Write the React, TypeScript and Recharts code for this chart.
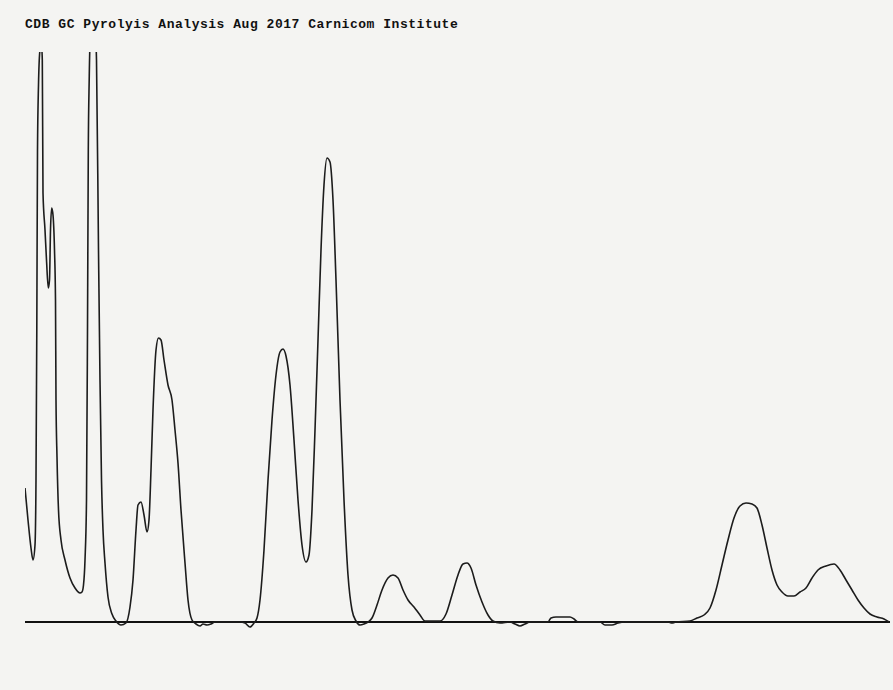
import { LineChart, Line, XAxis, YAxis, ReferenceLine } from 'recharts';

// retention time (min) and detector signal (arbitrary units)
const TIME = [
  0, 0.3, 0.6, 0.8, 1.0, 1.1, 1.18, 1.25, 1.35, 1.5, 1.65, 1.73, 1.8, 2.0, 2.15, 2.33, 2.45, 2.55,
  2.67, 2.8, 2.95, 3.05, 3.1, 3.2, 3.35, 3.6, 4.0, 4.5, 5.0, 5.5, 5.7, 5.85, 6.0, 6.15, 6.25, 6.33,
  6.42, 6.5, 6.8, 7.1, 7.15, 7.35, 7.5, 7.65, 7.8, 8.0, 8.3, 8.7, 9.1, 9.6, 10.1, 10.5,
  10.8, 11.1, 11.3, 11.6, 11.9, 12.2,
  12.4, 12.6, 12.8, 13.1, 13.35, 13.6, 13.9, 14.3, 14.7, 15.0, 15.3, 15.6, 16.0, 16.3, 16.7, 17.1,
  17.5, 17.8, 18.2, 18.6, 19.0, 21.5, 22.0, 22.5, 22.9, 23.2, 23.5, 23.9, 24.3, 24.7, 25.1, 25.5,
  25.8, 26.1, 26.5, 26.9, 27.3, 27.7, 28.1, 28.4, 28.7, 29.0, 29.3, 29.6, 29.9, 30.2, 30.5, 30.8,
  31.1, 31.5, 31.9, 32.3, 32.7, 33.1, 33.5, 33.9, 34.3, 34.7, 35.2, 35.7, 36.3, 36.8, 37.3, 37.8,
  38.3, 38.9, 39.5, 40.0, 41.5, 42.1, 42.7, 43.3, 43.8, 44.2, 44.6, 45.1, 45.7, 46.3, 46.8, 47.5,
  48.5, 49.0, 49.5, 50.0, 50.5, 52.3, 52.6, 53.1, 54.5, 54.9, 55.3, 57.5, 58.0, 58.7, 59.3, 60.0,
  64.3, 64.7, 65.1, 66.5, 67.2, 67.9, 68.5, 69.1, 69.7, 70.3, 70.9, 71.5, 72.1, 72.7, 73.2, 73.7,
  74.2, 74.7, 75.2, 75.7, 76.3, 76.9, 77.5, 78.1, 78.7, 79.3, 80.1, 80.9, 81.5, 82.1, 82.7, 83.3,
  83.9, 84.5, 85.2, 85.9, 86.4,
];

const SIGNAL = [
  13.4, 10.2, 7.4, 6.2, 7.7, 14.2, 29.2, 47.2, 53.7, 57.2, 57.7, 56.2, 42.9, 39.2, 36.2, 33.4, 34.2, 39.2,
  41.4, 40.7, 37.2, 32.2, 22.2, 16.5, 11.2, 8.2, 6.2, 4.4, 3.4, 2.9, 3.0, 3.7, 6.2, 12.2, 29.2, 47.2,
  54.2, 57.7, 58.7, 57.7, 56.2, 37.2, 24.2, 14.2, 9.2, 5.9, 2.5, 0.8, 0.1, -0.3, -0.1, 1.5,
  4.2, 9.2, 11.7, 12.0, 10.7, 9.0,
  10.2, 15.2, 21.2, 27.2, 28.4, 28.2, 26.2, 23.7, 22.2, 19.2, 15.9, 11.2, 5.9, 2.2, 0.2, -0.2,
  -0.4, -0.2, -0.3, -0.2, 0, 0, -0.1, -0.5, -0.1, 0.4, 2.2, 7.2, 14.2, 20.2, 24.7, 27.0,
  27.3, 26.6, 23.7, 18.2, 12.2, 7.7, 6.0, 6.7, 11.2, 19.2, 28.2, 37.2, 43.7, 46.4, 46.0, 42.2,
  34.2, 22.2, 12.2, 4.7, 1.2, 0.1, -0.3, -0.2, 0, 0.4, 1.7, 3.2, 4.4, 4.7, 4.4, 3.2,
  2.2, 1.5, 0.7, 0.1, 0.1, 0.8, 2.7, 4.7, 5.8, 5.9, 5.4, 3.7, 2.0, 0.7, 0.1, -0.1,
  0, -0.2, -0.4, -0.2, 0, 0, 0.4, 0.5, 0.5, 0.3, 0, 0, -0.3, -0.3, -0.1, 0,
  0, -0.1, 0, 0.1, 0.4, 0.7, 1.4, 3.2, 5.7, 8.2, 10.4, 11.6, 11.9, 11.8, 11.4, 9.7,
  7.4, 5.2, 3.7, 3.0, 2.6, 2.6, 3.0, 3.4, 4.4, 5.2, 5.6, 5.8, 5.2, 4.2, 3.2, 2.2,
  1.4, 0.8, 0.5, 0.3, 0,
];

const TITLE = 'CDB GC Pyrolyis Analysis Aug 2017 Carnicom Institute';

const data = TIME.map((t, i) => ({ time: t, signal: SIGNAL[i] }));

export default function App() {
  return (
    <div
      style={{
        position: 'absolute',
        left: 0,
        top: 0,
        width: 893,
        height: 690,
        background: '#f4f4f2',
      }}
    >
      <div
        style={{
          position: 'absolute',
          left: 25,
          top: 18,
          fontFamily: '"Liberation Mono", monospace',
          fontWeight: 'bold',
          fontSize: 13,
          letterSpacing: 0.53,
          lineHeight: '13px',
          color: '#111',
          whiteSpace: 'nowrap',
        }}
      >
        {TITLE}
      </div>
      <LineChart
        width={893}
        height={690}
        data={data}
        margin={{ top: 52, right: 3, bottom: 58, left: 25 }}
      >
        <XAxis dataKey="time" type="number" domain={[0, 86.5]} hide allowDataOverflow />
        <YAxis type="number" domain={[-1, 57]} hide allowDataOverflow />
        <ReferenceLine y={0} stroke="#111" strokeWidth={2} ifOverflow="extendDomain" />
        <Line
          dataKey="signal"
          type="monotone"
          stroke="#1c1c1c"
          strokeWidth={1.6}
          dot={false}
          isAnimationActive={false}
        />
      </LineChart>
    </div>
  );
}
